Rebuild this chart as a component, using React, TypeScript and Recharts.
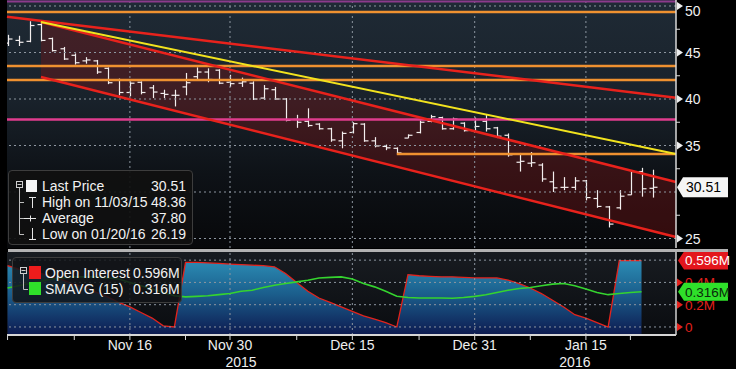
import React from 'react';
import {
  ComposedChart,
  Bar,
  Area,
  Line,
  XAxis,
  YAxis,
  CartesianGrid,
  ReferenceLine,
} from 'recharts';

// trading days, Oct 30 2015 .. Jan 26 2016
const days = [
  '10/30', '11/02', '11/03', '11/04', '11/05', '11/06', '11/09', '11/10', '11/11', '11/12',
  '11/13', '11/16', '11/17', '11/18', '11/19', '11/20', '11/23', '11/24', '11/25', '11/27',
  '11/30', '12/01', '12/02', '12/03', '12/04', '12/07', '12/08', '12/09', '12/10', '12/11',
  '12/14', '12/15', '12/16', '12/17', '12/18', '12/21', '12/22', '12/23', '12/24', '12/28',
  '12/29', '12/30', '12/31', '01/04', '01/05', '01/06', '01/07', '01/08', '01/11', '01/12',
  '01/13', '01/14', '01/15', '01/19', '01/20', '01/21', '01/22', '01/25', '01/26',
];

const opens = [
  46.0, 46.3, 46.2, 48.0, 46.5, 45.4, 44.7, 44.1, 44.1, 43.3,
  42.0, 40.7, 41.8, 41.2, 40.6, 40.4, 41.3, 42.4, 42.9, 43.1,
  41.8, 41.7, 41.7, 40.1, 41.0, 40.0, 37.8, 37.6, 37.3, 36.8,
  35.5, 36.4, 37.3, 35.5, 34.9, 34.7, 35.8, 36.4, 37.6, 38.0,
  36.8, 37.4, 36.6, 37.6, 36.9, 36.1, 33.2, 33.1, 32.9, 31.1,
  30.5, 30.5, 31.2, 29.3, 28.4, 28.3, 29.7, 32.2, 30.4,
];
const highs = [
  46.9, 46.8, 48.36, 48.25, 46.6, 45.6, 44.9, 44.5, 44.2, 43.4,
  42.2, 41.9, 41.9, 41.5, 41.0, 41.0, 42.8, 43.4, 43.3, 43.2,
  42.6, 42.3, 41.9, 41.5, 41.3, 40.1, 38.3, 39.0, 37.4, 36.9,
  36.5, 37.5, 37.4, 35.9, 35.1, 34.8, 36.2, 37.7, 38.3, 38.1,
  38.0, 37.5, 38.0, 38.3, 37.0, 36.3, 34.2, 34.3, 33.1, 32.2,
  31.6, 31.6, 31.3, 30.2, 28.5, 30.2, 32.2, 32.6, 32.4,
];
const lows = [
  45.7, 45.7, 46.1, 46.2, 45.1, 44.2, 43.7, 43.8, 42.7, 41.6,
  40.4, 40.3, 40.5, 40.1, 40.1, 39.2, 40.4, 42.0, 41.8, 41.6,
  41.3, 41.3, 39.9, 39.9, 39.9, 37.6, 36.9, 37.0, 36.7, 35.4,
  34.7, 36.3, 35.4, 34.8, 34.5, 34.0, 35.8, 36.3, 37.5, 36.7,
  36.7, 36.5, 36.6, 36.5, 35.8, 33.8, 32.2, 32.7, 31.1, 30.0,
  30.2, 30.2, 29.1, 28.3, 26.19, 28.1, 29.7, 29.5, 29.4,
];
const closes = [
  46.45, 46.1, 47.9, 46.3, 45.2, 44.3, 43.9, 44.2, 42.9, 41.75,
  40.7, 41.7, 40.7, 40.75, 40.5, 40.4, 41.75, 42.9, 42.1, 41.7,
  41.65, 41.85, 40.0, 41.1, 40.0, 37.7, 37.5, 37.15, 36.8, 35.6,
  36.3, 37.35, 35.5, 34.95, 34.75, 34.2, 36.1, 37.5, 38.1, 36.8,
  37.85, 36.6, 37.05, 36.8, 36.0, 34.0, 33.3, 33.15, 31.4, 30.45,
  30.5, 31.2, 29.4, 28.45, 26.55, 29.55, 32.2, 30.35, 30.51,
];

// open interest (millions) and its 15-day average; no value yet for the last day
const openInterest = [
  0.55, 0.52, 0.5, 0.48, 0.45, 0.42, 0.38, 0.36, 0.31, 0.27,
  0.22, 0.18, 0.13, 0.08, 0.01, 0.0, 0.58, 0.58, 0.575, 0.57,
  0.565, 0.56, 0.555, 0.55, 0.54, 0.48, 0.4, 0.32, 0.26, 0.22,
  0.18, 0.14, 0.1, 0.07, 0.04, 0.0, 0.47, 0.46, 0.455, 0.45,
  0.45, 0.445, 0.44, 0.44, 0.44, 0.42, 0.39, 0.35, 0.3, 0.24,
  0.18, 0.11, 0.08, 0.04, 0.0, 0.596, 0.596, 0.596, null,
];
const smavg15 = [
  0.35, 0.37, 0.39, 0.41, 0.43, 0.44, 0.45, 0.45, 0.45, 0.44,
  0.43, 0.4, 0.37, 0.34, 0.31, 0.28, 0.27, 0.275, 0.28, 0.29,
  0.3, 0.32, 0.33, 0.355, 0.375, 0.39, 0.405, 0.42, 0.44, 0.445,
  0.45, 0.43, 0.39, 0.36, 0.32, 0.275, 0.265, 0.26, 0.26, 0.26,
  0.258, 0.265, 0.275, 0.29, 0.31, 0.33, 0.345, 0.355, 0.37, 0.385,
  0.39, 0.37, 0.34, 0.31, 0.29, 0.3, 0.31, 0.316, null,
];

// x axis ticks (day index)
const majorTicks = [11, 20, 31, 42, 52];
const majorLabels = ['Nov 16', 'Nov 30', 'Dec 15', 'Dec 31', 'Jan 15'];
const minorTicks = [0, 6, 16, 26, 37, 47, 56];
const yearTicks = [20, 52];
const yearLabels = ['2015', '2016'];

// price axis
const priceTicks = [25, 27.5, 30, 32.5, 35, 37.5, 40, 42.5, 45, 47.5, 50];
const priceGrid = [25, 30, 35, 40, 45, 50];

// legend figures
const lastPrice = 30.51;
const highPrice = 48.36;
const highDate = '11/03/15';
const avgPrice = 37.8;
const lowPrice = 26.19;
const lowDate = '01/20/16';

// drawn studies: flat levels, support from 12/21, trend lines and the channel
const levelPurple = 50.48;
const levelsOrange = [49.35, 43.55, 42.04];
const supportStart = 35;
const supportLevel = 34.09;
const trendX = [3, 60.1];
const yellowTrend = [48.28, 34.09];
const outerX = [-0.05, 60.1];
const outerTrend = [48.85, 40.14];
const channelUpper = [48.28, 31.08];
const channelLower = [42.37, 25.16];

const oiGrid = [0, 0.2, 0.4, 0.6];

const xDomain: [number, number] = [-0.05, 60.1];
const priceDomain: [number, number] = [23.98, 50.645];
const oiDomain: [number, number] = [-0.072, 0.673];

const FONT = '"Liberation Sans", Arial, sans-serif';

const priceRows = days.map((d, i) => ({
  i,
  date: d,
  open: opens[i],
  high: highs[i],
  low: lows[i],
  close: closes[i],
}));

const oiRows = days.map((d, i) => ({ i, date: d, oi: openInterest[i], sma: smavg15[i] }));

const channelRows = trendX.map((x, k) => ({ i: x, band: [channelLower[k], channelUpper[k]] }));

const lastOi = openInterest[openInterest.length - 2] as number;
const lastSma = smavg15[smavg15.length - 2] as number;

const OhlcBar = (props: any) => {
  const { x, y, width, height, payload } = props;
  if (x == null || y == null || !payload) return null;
  const top = Math.min(y, y + height);
  const h = Math.abs(height);
  const span = payload.high - payload.low || 1;
  const pos = (v: number) => top + ((payload.high - v) / span) * h;
  const cx = Math.round(x + width / 2) + 0.5;
  return (
    <g stroke="#f3eeee" strokeWidth={1.2}>
      <line x1={cx} x2={cx} y1={top} y2={top + h} />
      <line x1={cx - 4} x2={cx} y1={pos(payload.open)} y2={pos(payload.open)} />
      <line x1={cx} x2={cx + 4} y1={pos(payload.close)} y2={pos(payload.close)} />
    </g>
  );
};

const PriceTick = (props: any) => {
  const { x, y, payload } = props;
  const v = payload.value;
  if (v === lastPrice) {
    return (
      <g>
        <path
          d={`M${x + 1},${y} L${x + 7},${y - 10} L${x + 52},${y - 10} L${x + 52},${y + 10} L${x + 7},${y + 10} Z`}
          fill="#f5f5f5"
        />
        <text x={x + 10} y={y} dy="0.36em" fill="#000" fontSize={14} fontFamily={FONT}>
          {lastPrice.toFixed(2)}
        </text>
      </g>
    );
  }
  if (v % 5 !== 0) {
    return <line x1={x} x2={x + 4} y1={y} y2={y} stroke="#dcdcdc" strokeWidth={1} />;
  }
  if (v === 30) return null;
  const ty = Math.max(y, 11);
  return (
    <g>
      <path d={`M${x + 1},${y - 4} L${x + 7},${y} L${x + 1},${y + 4} Z`} fill="#eeeeee" />
      <text x={x + 9} y={ty} dy="0.36em" fill="#f0f0f0" fontSize={14} fontFamily={FONT}>
        {v}
      </text>
    </g>
  );
};

const OiTick = (props: any) => {
  const { x, y, payload } = props;
  const v = payload.value;
  if (v === lastOi || v === lastSma) {
    const fill = v === lastOi ? '#e3161c' : '#2fe02a';
    const color = v === lastOi ? '#ffffff' : '#0b2a0b';
    return (
      <g>
        <path
          d={`M${x + 2},${y} L${x + 8},${y - 9} L${x + 52},${y - 9} L${x + 52},${y + 9} L${x + 8},${y + 9} Z`}
          fill={fill}
        />
        <text x={x + 9} y={y} dy="0.36em" fill={color} fontSize={13.5} fontFamily={FONT}>
          {v.toFixed(3)}M
        </text>
      </g>
    );
  }
  return (
    <g>
      <path d={`M${x + 1},${y - 4} L${x + 7},${y} L${x + 1},${y + 4} Z`} fill="#e3211c" />
      <text x={x + 9} y={y} dy="0.36em" fill="#e3211c" fontSize={13.5} fontFamily={FONT}>
        {v === 0 ? '0' : `${v}M`}
      </text>
    </g>
  );
};

const DateTick = (props: any) => {
  const { x, y, payload } = props;
  const k = majorTicks.indexOf(payload.value);
  if (k < 0) return null;
  const yk = yearTicks.indexOf(payload.value);
  return (
    <g fontFamily={FONT} fontSize={14} fill="#eeeeee">
      <text x={x} y={y + 10} textAnchor="middle">
        {majorLabels[k]}
      </text>
      {yk >= 0 && (
        <text x={x + (yk === 0 ? 11 : -11)} y={y + 27} textAnchor="middle">
          {yearLabels[yk]}
        </text>
      )}
    </g>
  );
};

const gridStroke = '#8d96a0';

const App: React.FC = () => {
  const textStyle: React.CSSProperties = {
    position: 'absolute',
    height: 16,
    lineHeight: '16px',
    fontSize: 14,
    fontFamily: FONT,
    color: '#f2f2f2',
    whiteSpace: 'nowrap',
  };
  const priceLegend = [
    { label: 'Last Price', value: lastPrice },
    { label: `High on ${highDate}`, value: highPrice },
    { label: 'Average', value: avgPrice },
    { label: `Low on ${lowDate}`, value: lowPrice },
  ];

  return (
    <div style={{ position: 'relative', width: 736, height: 369, background: '#000', overflow: 'hidden' }}>
      <style>{'body{margin:0;background:#000;}'}</style>

      <ComposedChart width={736} height={249} data={priceRows} margin={{ top: 0, right: 0, bottom: 1, left: 7 }}>
        <defs>
          <linearGradient id="priceBg" x1="0" y1="0" x2="0" y2="1">
            <stop offset="0%" stopColor="#1f2a35" />
            <stop offset="40%" stopColor="#19222b" />
            <stop offset="70%" stopColor="#0e1217" />
            <stop offset="100%" stopColor="#07080a" />
          </linearGradient>
        </defs>
        <CartesianGrid fill="url(#priceBg)" horizontal={false} vertical={false} />
        <XAxis type="number" dataKey="i" domain={xDomain} allowDataOverflow hide />
        <YAxis
          orientation="right"
          type="number"
          domain={priceDomain}
          allowDataOverflow
          ticks={[...priceTicks, lastPrice]}
          interval={0}
          width={60}
          tickSize={0}
          tickMargin={0}
          tickLine={false}
          axisLine={{ stroke: '#d8d8d8', strokeWidth: 1.5 }}
          tick={<PriceTick />}
        />
        {priceGrid.map((v) => (
          <ReferenceLine key={`pg${v}`} y={v} stroke={gridStroke} strokeDasharray="2 3" />
        ))}
        {majorTicks.map((t) => (
          <ReferenceLine key={`pv${t}`} x={t} stroke={gridStroke} strokeDasharray="2 3" />
        ))}
        <Area
          data={channelRows}
          dataKey="band"
          type="linear"
          stroke="none"
          fill="#8c1212"
          fillOpacity={0.33}
          isAnimationActive={false}
        />
        <ReferenceLine y={levelPurple} stroke="#8c3a8c" strokeWidth={2} />
        {levelsOrange.map((v) => (
          <ReferenceLine key={`lo${v}`} y={v} stroke="#ef9130" strokeWidth={2.6} />
        ))}
        <ReferenceLine y={avgPrice} stroke="#e03c8e" strokeWidth={2.6} />
        <ReferenceLine
          segment={[
            { x: supportStart, y: supportLevel },
            { x: xDomain[1], y: supportLevel },
          ]}
          stroke="#ef9130"
          strokeWidth={2.4}
        />
        <ReferenceLine
          segment={[
            { x: outerX[0], y: outerTrend[0] },
            { x: outerX[1], y: outerTrend[1] },
          ]}
          stroke="#e8221c"
          strokeWidth={2.5}
        />
        <ReferenceLine
          segment={[
            { x: trendX[0], y: channelUpper[0] },
            { x: trendX[1], y: channelUpper[1] },
          ]}
          stroke="#e8221c"
          strokeWidth={2.5}
        />
        <ReferenceLine
          segment={[
            { x: trendX[0], y: channelLower[0] },
            { x: trendX[1], y: channelLower[1] },
          ]}
          stroke="#e8221c"
          strokeWidth={2.5}
        />
        <ReferenceLine
          segment={[
            { x: trendX[0], y: yellowTrend[0] },
            { x: trendX[1], y: yellowTrend[1] },
          ]}
          stroke="#f2e31e"
          strokeWidth={2}
        />
        <Bar
          dataKey={(d: any) => [d.low, d.high]}
          barSize={8}
          shape={<OhlcBar />}
          isAnimationActive={false}
        />
      </ComposedChart>

      <div style={{ position: 'absolute', left: 8, top: 249, width: 720, height: 3, background: '#b3b3b3' }} />

      <div style={{ position: 'absolute', left: 0, top: 252 }}>
        <ComposedChart width={736} height={117} data={oiRows} margin={{ top: 0, right: 0, bottom: 0, left: 7 }}>
          <defs>
            <linearGradient id="oiBg" x1="0" y1="0" x2="0" y2="1">
              <stop offset="0%" stopColor="#181c21" />
              <stop offset="100%" stopColor="#0a0c10" />
            </linearGradient>
            <linearGradient id="oiFill" x1="0" y1="0" x2="0" y2="1">
              <stop offset="0%" stopColor="#2b8cb4" />
              <stop offset="45%" stopColor="#1b5e8c" />
              <stop offset="100%" stopColor="#0d1a50" />
            </linearGradient>
          </defs>
          <CartesianGrid fill="url(#oiBg)" horizontal={false} vertical={false} />
          <XAxis
            type="number"
            dataKey="i"
            domain={xDomain}
            allowDataOverflow
            ticks={[...minorTicks, ...majorTicks].sort((a, b) => a - b)}
            interval={0}
            height={34}
            tickSize={5}
            tickMargin={0}
            axisLine={{ stroke: '#d6d6d6', strokeWidth: 2 }}
            tickLine={{ stroke: '#d6d6d6' }}
            tick={<DateTick />}
          />
          <YAxis
            orientation="right"
            type="number"
            domain={oiDomain}
            allowDataOverflow
            ticks={[0, 0.2, 0.4, lastOi, lastSma]}
            interval={0}
            width={60}
            tickSize={0}
            tickMargin={0}
            tickLine={false}
            axisLine={{ stroke: '#d0d0d0', strokeWidth: 1.5 }}
            tick={<OiTick />}
          />
          {oiGrid.map((v) => (
            <ReferenceLine key={`og${v}`} y={v} stroke={gridStroke} strokeDasharray="2 3" />
          ))}
          {majorTicks.map((t) => (
            <ReferenceLine key={`ov${t}`} x={t} stroke={gridStroke} strokeDasharray="2 3" />
          ))}
          <Area
            dataKey="oi"
            type="linear"
            stroke="#e3231c"
            strokeWidth={1.3}
            fill="url(#oiFill)"
            fillOpacity={1}
            baseValue={oiDomain[0]}
            isAnimationActive={false}
          />
          <Line dataKey="sma" type="linear" stroke="#35d42f" strokeWidth={1.6} dot={false} isAnimationActive={false} />
        </ComposedChart>
      </div>

      {/* price legend */}
      <div
        style={{
          position: 'absolute',
          left: 8,
          top: 170,
          width: 185,
          height: 75,
          background: 'rgba(16,16,16,0.93)',
          border: '1px solid #3d3d3d',
          borderRadius: 4,
          boxSizing: 'border-box',
        }}
      >
        <svg width={40} height={75} style={{ position: 'absolute', left: -1, top: -1 }}>
          <rect x={8.5} y={11.5} width={6} height={6} fill="none" stroke="#cfcfcf" />
          <line x1={9.5} x2={13.5} y1={14.5} y2={14.5} stroke="#cfcfcf" />
          <line x1={11.5} x2={11.5} y1={17.5} y2={64.5} stroke="#bdbdbd" />
          <line x1={11.5} x2={16} y1={32.5} y2={32.5} stroke="#bdbdbd" />
          <line x1={11.5} x2={16} y1={48.5} y2={48.5} stroke="#bdbdbd" />
          <line x1={11.5} x2={16} y1={64.5} y2={64.5} stroke="#bdbdbd" />
          <rect x={18} y={10} width={11} height={12} fill="#f5f5f5" />
          <line x1={21} x2={28} y1={27.5} y2={27.5} stroke="#e6e6e6" />
          <line x1={24.5} x2={24.5} y1={27.5} y2={38} stroke="#e6e6e6" />
          <line x1={16} x2={28} y1={48.5} y2={48.5} stroke="#e6e6e6" />
          <line x1={22.5} x2={22.5} y1={45.5} y2={51.5} stroke="#e6e6e6" />
          <line x1={24.5} x2={24.5} y1={58} y2={69.5} stroke="#e6e6e6" />
          <line x1={21} x2={28} y1={69.5} y2={69.5} stroke="#e6e6e6" />
        </svg>
        {priceLegend.map((row, k) => (
          <React.Fragment key={row.label}>
            <div style={{ ...textStyle, left: 33, top: 7 + k * 16 }}>{row.label}</div>
            <div style={{ ...textStyle, right: 6, top: 7 + k * 16, textAlign: 'right' }}>{row.value.toFixed(2)}</div>
          </React.Fragment>
        ))}
      </div>

      {/* open interest legend */}
      <div
        style={{
          position: 'absolute',
          left: 12,
          top: 257,
          width: 170,
          height: 46,
          background: 'rgba(18,20,24,0.85)',
          border: '1px solid #3d3d3d',
          borderRadius: 4,
          boxSizing: 'border-box',
        }}
      >
        <svg width={32} height={46} style={{ position: 'absolute', left: -1, top: -1 }}>
          <rect x={8.5} y={10.5} width={6} height={6} fill="none" stroke="#cfcfcf" />
          <line x1={9.5} x2={13.5} y1={13.5} y2={13.5} stroke="#cfcfcf" />
          <line x1={11.5} x2={11.5} y1={16.5} y2={32.5} stroke="#bdbdbd" />
          <line x1={11.5} x2={16} y1={32.5} y2={32.5} stroke="#bdbdbd" />
          <rect x={17} y={9} width={12} height={13} fill="#ee1c1c" />
          <rect x={17} y={25} width={12} height={13} fill="#2fe02a" />
        </svg>
        <div style={{ ...textStyle, left: 32, top: 7 }}>Open Interest</div>
        <div style={{ ...textStyle, left: 120, top: 7 }}>{lastOi.toFixed(3)}M</div>
        <div style={{ ...textStyle, left: 32, top: 23 }}>SMAVG (15)</div>
        <div style={{ ...textStyle, left: 120, top: 23 }}>{lastSma.toFixed(3)}M</div>
      </div>
    </div>
  );
};

export default App;
